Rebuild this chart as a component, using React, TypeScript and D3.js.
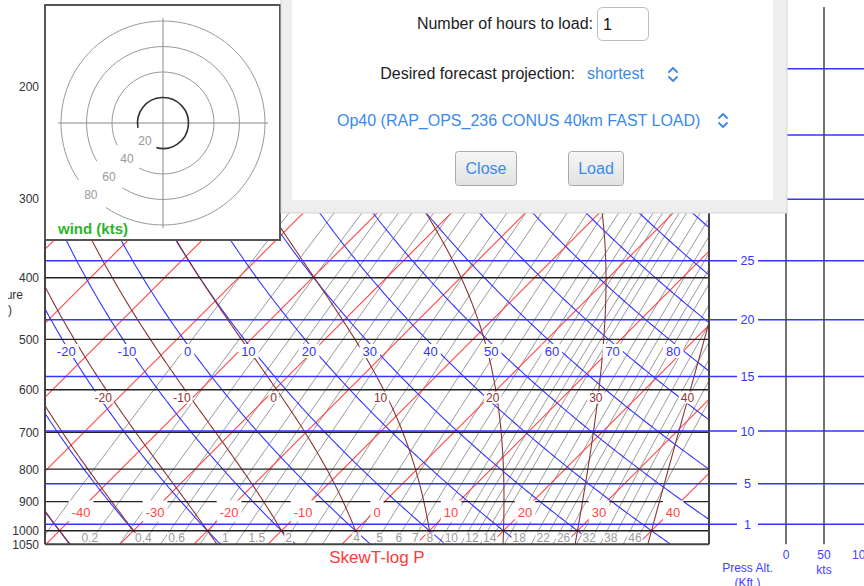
import React, { useMemo } from "react";
import * as d3 from "d3";

// ---------- data ----------
const pressureTicks = [200, 300, 400, 500, 600, 700, 800, 900, 1000, 1050];
const solidIsobars = [200, 300, 400, 500, 600, 700, 800, 1000];
const brokenIsobars = [900];
const isotherms = [-110, -100, -90, -80, -70, -60, -50, -40, -30, -20, -10, 0, 10, 20, 30, 40, 50];
const isothermLabels = [-40, -30, -20, -10, 0, 10, 20, 30, 40];
const dryAdiabats = [-40, -30, -20, -10, 0, 10, 20, 30, 40, 50, 60, 70, 80, 90, 100, 110, 120, 130, 140, 150, 160, 170, 180];
const dryAdiabatLabels = [-20, -10, 0, 10, 20, 30, 40, 50, 60, 70, 80];
const moistAdiabats = [-40, -30, -20, -10, 0, 10, 20, 30, 40];
const moistAdiabatLabels = [-20, -10, 0, 10, 20, 30, 40];
const mixingRatios = [0.1, 0.2, 0.3, 0.4, 0.5, 0.6, 0.8, 1, 1.2, 1.5, 2, 2.5, 3, 4, 5, 6, 7, 8, 9, 10, 11, 12, 13, 14, 16, 18, 20, 22, 24, 26, 29, 32, 35, 38, 42, 46];
const mixingRatioLabels = [0.2, 0.4, 0.6, 1, 1.5, 2, 4, 5, 6, 7, 8, 10, 12, 14, 18, 22, 26, 32, 38, 46];
const altitudeKft = [1, 5, 10, 15, 20, 25, 30, 35, 40];
const altitudePressure = [977.2, 843.1, 696.8, 571.8, 465.6, 376.0, 300.9, 238.4, 187.5];
const windSpeedTicks = [0, 50, 100];
const hodoRings = [20, 40, 60, 80];

// ---------- layout ----------
const W = 864, H = 586;
const PLOT = { left: 45, right: 709 };
const P_TOP = 150, P_BOT = 1050;
const FONT = "'Liberation Sans', Arial, Helvetica, sans-serif";

const yScale = d3.scaleLog().domain([P_BOT, P_TOP]).range([544.2, 7.1]);
const xScale = d3.scaleLinear().domain([-40, 40]).range([59.5, 651.5]);
const skew = (p: number) => yScale(1000) - yScale(p);
const X = (t: number, p: number) => xScale(t) + skew(p);

const windX = d3.scaleLinear().domain([0, 100]).range([786, 862]);
const hodoR = d3.scaleLinear().domain([0, 80]).range([0, 102]);
const HC = { x: 163, y: 123 };

// ---------- physics helpers ----------
const satVap = (tc: number) => 6.112 * Math.exp((17.67 * tc) / (tc + 243.5));
const dewFromMix = (w: number, p: number) => {
  const e = (w * p) / (622 + w);
  const L = Math.log(e / 6.112);
  return (243.5 * L) / (17.67 - L);
};
const moistDTdp = (p: number, tk: number) => {
  const es = satVap(tk - 273.15);
  const rs = (0.622 * es) / (p - es);
  const Rd = 287.04, cp = 1005.7, Lv = 2.501e6, eps = 0.622;
  return ((Rd * tk + Lv * rs) / p) / (cp + (Lv * Lv * rs * eps) / (Rd * tk * tk));
};
const integrate = (tk0: number, p0: number, p1: number, h: number) => {
  const pts: [number, number][] = [];
  let T = tk0;
  for (let p = p0; h < 0 ? p >= p1 - 1e-6 : p <= p1 + 1e-6; p += h) {
    pts.push([p, T - 273.15]);
    const k1 = moistDTdp(p, T);
    const k2 = moistDTdp(p + h / 2, T + (h / 2) * k1);
    const k3 = moistDTdp(p + h / 2, T + (h / 2) * k2);
    const k4 = moistDTdp(p + h, T + h * k3);
    T += (h / 6) * (k1 + 2 * k2 + 2 * k3 + k4);
  }
  return pts;
};
const moistCurve = (tw: number) => {
  const up = integrate(tw + 273.15, 1000, P_TOP, -5);
  const down = integrate(tw + 273.15, 1000, P_BOT, 5);
  return [...down.reverse(), ...up.slice(1)];
};

const pSamples = d3.range(P_BOT, P_TOP - 1, -5);
const line = d3.line<[number, number]>().x((d) => X(d[1], d[0])).y((d) => yScale(d[0]));

const textW = (s: string, fs: number) =>
  s.split("").reduce((a, c) => a + (c === "-" ? 0.333 : c === "." ? 0.278 : 0.556), 0) * fs;

function Chevron({ x, y, color }: { x: number; y: number; color: string }) {
  return (
    <path
      d={`M${x - 4},${y - 2}L${x},${y - 6}L${x + 4},${y - 2}M${x - 4},${y + 3}L${x},${y + 7}L${x + 4},${y + 3}`}
      fill="none"
      stroke={color}
      strokeWidth={1.8}
      strokeLinecap="round"
      strokeLinejoin="round"
    />
  );
}

export default function App() {
  const paths = useMemo(() => {
    const iso = isotherms.map((t) => ({ t, d: line([[P_BOT, t], [P_TOP, t]]) as string }));
    const dry = dryAdiabats.map((th) => ({
      th,
      d: line(pSamples.map((p) => [p, (th + 273.15) * Math.pow(p / 1000, 0.2857) - 273.15] as [number, number])) as string,
    }));
    const moist = moistAdiabats.map((tw) => ({ tw, pts: moistCurve(tw) }));
    const mix = mixingRatios.map((w) => ({
      w,
      d: line(pSamples.map((p) => [p, dewFromMix(w, p)] as [number, number])) as string,
    }));
    return { iso, dry, moist, mix };
  }, []);

  const plotTop = yScale(P_TOP);
  const plotBot = yScale(P_BOT);

  const altGap = [737, 758];
  const red = "#ff4545";
  const blue = "#3535ff";
  const brown = "#8c3434";
  const gray = "#8a8a8a";
  const uiBlue = "#3a8aea";

  const moistLabelP = 600;
  const moistAt = (pts: [number, number][], p: number) => {
    const f = pts.find((d) => Math.abs(d[0] - p) < 0.01);
    return f ? f[1] : 0;
  };

  return (
    <svg width={W} height={H} style={{ position: "absolute", left: 0, top: 0, background: "#fff" }} fontFamily={FONT}>
      <defs>
        <clipPath id="plotClip">
          <rect x={PLOT.left} y={plotTop} width={PLOT.right - PLOT.left} height={plotBot - plotTop} />
        </clipPath>
        <clipPath id="marginClip">
          <rect x={8} y={0} width={W - 8} height={H} />
        </clipPath>
        <linearGradient id="btn" x1="0" y1="0" x2="0" y2="1">
          <stop offset="0" stopColor="#f6f6f6" />
          <stop offset="1" stopColor="#e2e2e2" />
        </linearGradient>
      </defs>
      <rect x={0} y={0} width={W} height={H} fill="#fff" />

      <g clipPath="url(#plotClip)">
        {paths.mix.map((m) => (
          <path key={"w" + m.w} d={m.d} fill="none" stroke={gray} strokeWidth={0.9} />
        ))}
        {paths.iso.map((m) => (
          <path key={"t" + m.t} d={m.d} fill="none" stroke={red} strokeWidth={1.1} />
        ))}
        {paths.dry.map((m) => (
          <path key={"th" + m.th} d={m.d} fill="none" stroke={blue} strokeWidth={1.1} />
        ))}
        {paths.moist.map((m) => (
          <path key={"tw" + m.tw} d={line(m.pts) as string} fill="none" stroke={brown} strokeWidth={1.1} />
        ))}
        {solidIsobars.map((p) => (
          <line key={"p" + p} x1={PLOT.left} x2={PLOT.right} y1={yScale(p)} y2={yScale(p)} stroke="#222" strokeWidth={1.4} />
        ))}
        {brokenIsobars.map((p) => (
          <line key={"pb" + p} x1={PLOT.left} x2={PLOT.right} y1={yScale(p)} y2={yScale(p)} stroke="#222" strokeWidth={1.4} />
        ))}

        {/* isotherm labels */}
        {isothermLabels.map((t) => {
          const s = String(t);
          const w = textW(s, 13);
          const cx = X(t, 935) + 3;
          return (
            <g key={"tl" + t}>
              <rect x={cx - w / 2 - 3} y={500.5} width={w + 6} height={21} fill="#fff" />
              <text x={cx} y={516.5} textAnchor="middle" fontSize={13} fill={red}>{s}</text>
            </g>
          );
        })}
        {/* dry adiabat labels */}
        {dryAdiabatLabels.map((th) => {
          const s = String(th);
          const w = textW(s, 13);
          const t500 = (th + 273.15) * Math.pow(0.5, 0.2857) - 273.15;
          const cx = X(t500, 500) + 4;
          return (
            <g key={"thl" + th}>
              <rect x={cx - w / 2 - 3} y={344} width={w + 6} height={14} fill="#fff" />
              <text x={cx} y={356} textAnchor="middle" fontSize={13} fill={blue}>{s}</text>
            </g>
          );
        })}
        {/* moist adiabat labels */}
        {paths.moist
          .filter((m) => moistAdiabatLabels.includes(m.tw))
          .map((m) => {
            const s = String(m.tw);
            const w = textW(s, 12);
            const cx = X(moistAt(m.pts, moistLabelP), moistLabelP) - 3;
            return (
              <g key={"twl" + m.tw}>
                <rect x={cx - w / 2 - 2} y={391.5} width={w + 4} height={12} fill="#fff" />
                <text x={cx} y={401.5} textAnchor="middle" fontSize={12} fill={brown}>{s}</text>
              </g>
            );
          })}
        {/* mixing ratio labels */}
        {mixingRatioLabels.map((wv) => {
          const s = String(wv);
          const w = textW(s, 12);
          const xe = X(dewFromMix(wv, 1000), 1000);
          return (
            <g key={"wl" + wv}>
              <rect x={xe - w - 1} y={532.5} width={w + 2} height={11} fill="#fff" />
              <text x={xe} y={542} textAnchor="end" fontSize={12} fill="#9a9a9a">{s}</text>
            </g>
          );
        })}
      </g>

      {/* pressure altitude lines */}
      {altitudeKft.map((k, i) => {
        const y = yScale(altitudePressure[i]);
        return (
          <g key={"alt" + k}>
            <line x1={PLOT.left} x2={altGap[0]} y1={y} y2={y} stroke={blue} strokeWidth={1.5} />
            <line x1={altGap[1]} x2={W} y1={y} y2={y} stroke={blue} strokeWidth={1.5} />
            <text x={(altGap[0] + altGap[1]) / 2} y={y + 4.5} textAnchor="middle" fontSize={12.5} fill={blue}>{k}</text>
          </g>
        );
      })}

      {/* plot frame */}
      <line x1={PLOT.left} x2={PLOT.left} y1={plotTop} y2={plotBot} stroke="#444" strokeWidth={2} />
      <line x1={PLOT.right} x2={PLOT.right} y1={plotTop} y2={plotBot} stroke="#444" strokeWidth={2} />
      <line x1={PLOT.left} x2={PLOT.right} y1={plotBot} y2={plotBot} stroke="#444" strokeWidth={2} />

      {/* pressure tick labels */}
      {pressureTicks.map((p) => (
        <text key={"pl" + p} x={39} y={yScale(p) + 4.5} textAnchor="end" fontSize={12} fill="#333">{p}</text>
      ))}
      <g clipPath="url(#marginClip)">
        <text x={23} y={299} textAnchor="end" fontSize={12} fill="#333">Pressure</text>
        <text x={12} y={314} textAnchor="end" fontSize={12} fill="#333">(mb)</text>
      </g>

      <text x={377} y={563} textAnchor="middle" fontSize={17} fill="#ff3b3b">SkewT-log P</text>

      {/* wind speed panel */}
      {windSpeedTicks.map((s) => (
        <g key={"ws" + s}>
          {s < 100 && <line x1={windX(s)} x2={windX(s)} y1={plotTop} y2={plotBot} stroke="#444" strokeWidth={1.5} />}
          <text x={windX(s)} y={559} textAnchor="middle" fontSize={12} fill="#4040ff">{s}</text>
        </g>
      ))}
      <text x={windX(50)} y={574} textAnchor="middle" fontSize={12} fill="#4040ff">kts</text>
      <text x={747.5} y={571.5} textAnchor="middle" fontSize={12} fill="#4040ff">Press Alt.</text>
      <text x={747.5} y={587} textAnchor="middle" fontSize={12} fill="#4040ff">(Kft.)</text>

      {/* hodograph */}
      <rect x={45} y={5} width={235} height={235} fill="#fff" stroke="#555" strokeWidth={2} />
      <line x1={HC.x - hodoR(80) - 3} x2={HC.x + hodoR(80) + 3} y1={HC.y} y2={HC.y} stroke="#888" strokeWidth={1} />
      <line x1={HC.x} x2={HC.x} y1={HC.y - hodoR(80) - 3} y2={HC.y + hodoR(80) + 3} stroke="#888" strokeWidth={1} />
      {hodoRings.map((r) => {
        const gaps: Record<number, [number, number]> = { 20: [105, 169], 40: [118, 154], 60: [122, 150], 80: [124, 146] };
        const [g0, g1] = gaps[r];
        const path = d3.path();
        const rad = hodoR(r);
        const a0 = (g1 * Math.PI) / 180;
        const a1 = ((g0 + 360) * Math.PI) / 180;
        path.moveTo(HC.x + rad * Math.cos(a0), HC.y + rad * Math.sin(a0));
        path.arc(HC.x, HC.y, rad, a0, a1);
        const la = (135 * Math.PI) / 180;
        return (
          <g key={"ring" + r}>
            <path d={path.toString()} fill="none" stroke={r === 20 ? "#333" : "#999"} strokeWidth={r === 20 ? 1.6 : 1} />
            <text x={HC.x + rad * Math.cos(la)} y={HC.y + rad * Math.sin(la) + 4} textAnchor="middle" fontSize={12} fill="#999">{r}</text>
          </g>
        );
      })}
      <text x={58} y={234} fontSize={15} fontWeight="bold" fill="#2ab52a">wind (kts)</text>

      {/* dialog */}
      <rect x={281} y={-6} width={506} height={219} fill="#eeeeee" stroke="#d4d4d4" strokeWidth={1} />
      <rect x={292} y={-6} width={481} height={206} fill="#fff" />
      <text x={593} y={29} textAnchor="end" fontSize={16} fill="#222">Number of hours to load:</text>
      <rect x={597.5} y={7.5} width={51} height={33} rx={5} fill="#fff" stroke="#bbb" />
      <text x={603} y={30} fontSize={16} fill="#111">1</text>
      <text x={575} y={79} textAnchor="end" fontSize={16} fill="#222">Desired forecast projection:</text>
      <text x={587} y={79} fontSize={16} fill={uiBlue}>shortest</text>
      <Chevron x={673} y={74} color={uiBlue} />
      <text x={337} y={126} fontSize={16} fill={uiBlue}>Op40 (RAP_OPS_236 CONUS 40km FAST LOAD)</text>
      <Chevron x={723} y={120} color={uiBlue} />
      <rect x={455.5} y={151.5} width={61} height={34} rx={3} fill="url(#btn)" stroke="#aaa" />
      <text x={486} y={174} textAnchor="middle" fontSize={16} fill={uiBlue}>Close</text>
      <rect x={568.5} y={151.5} width={55} height={34} rx={3} fill="url(#btn)" stroke="#aaa" />
      <text x={596} y={174} textAnchor="middle" fontSize={16} fill={uiBlue}>Load</text>
    </svg>
  );
}
